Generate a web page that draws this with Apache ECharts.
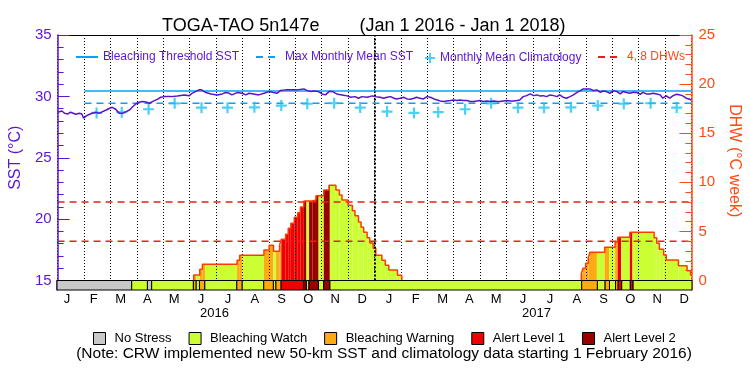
<!DOCTYPE html>
<html>
<head>
<meta charset="utf-8">
<script src="https://cdn.jsdelivr.net/npm/echarts@6/dist/echarts.min.js"></script>
<style>
  html, body { margin: 0; padding: 0; background: #fff; }
  #chart { width: 750px; height: 375px; }
</style>
</head>
<body>
<div id="chart"></div>
<script>
// days are counted from 1 Jan 2016 (day 731 = 1 Jan 2018)
var monthLabels = ['J','F','M','A','M','J','J','A','S','O','N','D','J','F','M','A','M','J','J','A','S','O','N','D'];
var yearLabels = ['2016', '2017'];

var sstDays = [
  0, 5, 8, 12, 15, 17, 21, 25, 28, 30,
  33, 37, 40, 44, 48, 52, 56, 60, 63, 67,
  71, 75, 79, 83, 86, 90, 94, 98, 102, 106,
  108, 111, 115, 119, 123, 131, 138, 146, 152, 155,
  159, 163, 166, 171, 177, 184, 190, 194, 198, 201,
  207, 213, 217, 221, 226, 232, 238, 244, 249, 253,
  257, 263, 269, 276, 284, 288, 292, 295, 301, 305,
  309, 313, 317, 322, 328, 334, 338, 343, 347, 351,
  357, 363, 366,
  372, 376, 380, 384, 388, 391, 395, 399, 403, 407,
  411, 414, 418, 422, 426, 430, 434, 438, 441, 445,
  449, 453, 457, 461, 464, 468, 472, 476, 480, 484,
  487, 491, 495, 499, 503, 507, 510, 514, 518, 522,
  526, 530, 533, 537, 541, 545, 549, 553, 556, 560,
  564, 568, 572, 576, 579, 583, 587, 591, 595, 599,
  603, 606, 610, 614, 618, 622, 626, 629, 633, 637,
  641, 645, 649, 652, 656, 660, 664, 668, 672, 675,
  679, 683, 687, 691, 695, 698, 702, 706, 710, 714,
  718, 721, 725, 729, 731
];
var sstValues = [
  28.71, 28.81, 28.62, 28.57, 28.71, 28.76, 28.54, 28.62, 28.57, 28.22,
  28.41, 28.54, 28.62, 28.71, 28.62, 28.76, 28.89, 29.03, 29.11, 28.95,
  28.62, 28.62, 28.76, 28.89, 29.11, 29.38, 29.52, 29.58, 29.55, 29.44,
  29.38, 29.63, 29.76, 29.93, 29.98, 29.98, 30.04, 30.12, 30.06, 30.25,
  30.39, 30.53, 30.53, 30.31, 30.20, 30.12, 30.20, 30.31, 30.25, 30.12,
  30.31, 30.25, 30.12, 30.25, 30.20, 30.12, 30.25, 30.39, 30.31, 30.25,
  30.47, 30.53, 30.53, 30.53, 30.61, 30.47, 30.39, 30.44, 30.39, 30.20,
  30.12, 30.39, 30.39, 30.20, 30.12, 30.04, 29.93, 29.98, 29.85, 29.98,
  29.93, 30.04, 29.98,
  29.93, 29.85, 29.93, 29.98, 29.85, 29.79, 29.85, 29.93, 29.79, 29.76,
  29.85, 29.93, 29.85, 29.79, 29.98, 29.93, 29.79, 29.71, 29.63, 29.58,
  29.63, 29.66, 29.71, 29.66, 29.71, 29.66, 29.66, 29.58, 29.58, 29.63,
  29.66, 29.58, 29.63, 29.58, 29.63, 29.58, 29.58, 29.63, 29.66, 29.63,
  29.63, 29.66, 29.71, 29.98, 30.06, 30.20, 30.06, 30.12, 30.04, 30.06,
  29.98, 30.12, 30.06, 29.98, 30.12, 29.93, 29.85, 29.98, 30.12, 30.33,
  30.47, 30.61, 30.61, 30.61, 30.47, 30.53, 30.33, 30.44, 30.39, 30.25,
  30.47, 30.39, 30.20, 30.39, 30.31, 30.25, 30.33, 30.31, 30.17, 30.33,
  30.20, 30.20, 30.25, 30.20, 30.12, 29.85, 30.04, 29.85, 30.06, 30.17,
  30.12, 30.04, 29.85, 29.76, 29.71
];

// monthly mean climatology, mid-month, from Feb 2016
var climDays = [45, 74, 105, 135, 166, 196, 227, 258, 288, 319, 349,
  380, 411, 439, 470, 500, 531, 561, 592, 623, 653, 684, 714];
var climValues = [28.65, 28.71, 28.95, 29.43, 29.08, 29.08, 29.11, 29.25, 29.4, 29.44, 29.09,
  28.76, 28.65, 28.71, 28.95, 29.43, 29.08, 29.08, 29.11, 29.25, 29.4, 29.44, 29.09];

var mmm = 29.44;
var threshold = 30.44;
var climStart = 31;      // new climatology starts 1 Feb 2016
var dhwLines = [4, 8];

// degree heating weeks, value holds from the given day on
var dhwDays = [0, 157, 164, 167, 207, 210, 238, 244, 249, 256,
  258, 263, 266, 269, 273, 277, 280, 284, 294, 298,
  307, 313, 321, 325, 328, 335, 340, 343, 347, 350,
  353, 357, 360, 364, 367, 374, 378, 382, 392, 397,
  604, 606, 609, 612, 614, 631, 643, 646, 660, 688,
  691, 694, 699, 702, 716, 726, 730];
var dhwValues = [0, 0.56, 1.14, 1.65, 2.06, 2.57, 3.11, 3.58, 2.97, 3.58,
  4.20, 4.70, 5.32, 5.82, 6.44, 6.90, 7.48, 8.10, 8.20, 8.64,
  9.22, 9.69, 9.22, 8.71, 8.20, 7.66, 7.11, 6.60, 5.96, 5.42,
  4.91, 4.36, 3.82, 3.28, 2.57, 2.06, 1.55, 1.07, 0.53, 0,
  0.66, 1.24, 1.75, 2.32, 2.87, 3.38, 3.92, 4.40, 4.91, 4.36,
  3.79, 3.18, 2.60, 2.09, 1.51, 1.00, 0.56];

// stress level periods: start day and level index
var stressStart = [0, 86, 104, 109, 157, 160, 164, 170, 207, 213,
  238, 249, 252, 258, 284, 287, 290, 301, 307, 314,
  604, 622, 631, 636, 643, 646, 650, 660, 663];
var stressLevel = [0, 1, 0, 1, 2, 1, 2, 1, 2, 1,
  2, 1, 2, 3, 4, 1, 4, 1, 4, 1,
  2, 1, 2, 1, 2, 3, 1, 3, 1];

var levelNames = ['No Stress', 'Bleaching Watch', 'Bleaching Warning', 'Alert Level 1', 'Alert Level 2'];
var levelColors = ['#c8c8c8', '#ccff33', '#ffaa14', '#f00000', '#990000'];

var noteText = '(Note: CRW implemented new 50-km SST and climatology data starting 1 February 2016)';
var END = 731;

var purple = '#5a16d2';
var orange = '#ff4a14';
var blue = '#0aa0f5';
var cyan = '#1cc4f5';
var font = 'Liberation Sans';

var sst = sstDays.map(function (d, i) { return [d, sstValues[i]]; });
var clim = climDays.map(function (d, i) { return [d, climValues[i]]; });

var segments = stressStart.map(function (s, i) {
  return [s, i + 1 < stressStart.length ? stressStart[i + 1] : END, stressLevel[i]];
});

// outline of the DHW steps, broken where DHW is 0
var outline = [];
for (var i = 0; i < dhwDays.length; i++) {
  var v = dhwValues[i];
  if (v === 0) {
    if (i > 0 && dhwValues[i - 1] > 0) outline.push([dhwDays[i], 0]);
    outline.push([dhwDays[i], '-']);
    continue;
  }
  if (i > 0 && dhwValues[i - 1] === 0) outline.push([dhwDays[i], 0]);
  outline.push([dhwDays[i], v]);
}
outline.push([END, dhwValues[dhwValues.length - 1]]);

function renderArea(params, api) {
  var s = api.value(0), e = api.value(1), lvl = api.value(2);
  var children = [];
  for (var k = 0; k < dhwDays.length; k++) {
    var ds = dhwDays[k];
    var de = k + 1 < dhwDays.length ? dhwDays[k + 1] : END;
    var a = Math.max(s, ds), b = Math.min(e, de);
    if (b <= a || dhwValues[k] <= 0) continue;
    var p0 = api.coord([a, dhwValues[k]]);
    var p1 = api.coord([b, 0]);
    children.push({
      type: 'rect',
      shape: { x: p0[0], y: p0[1], width: p1[0] - p0[0], height: p1[1] - p0[1] },
      style: { fill: levelColors[lvl] }
    });
  }
  return { type: 'group', children: children };
}

function renderBar(params, api) {
  var p0 = api.coord([api.value(0), 1]);
  var p1 = api.coord([api.value(1), 0]);
  return {
    type: 'rect',
    shape: { x: p0[0], y: p0[1], width: p1[0] - p0[0], height: p1[1] - p0[1] },
    style: { fill: api.visual('color'), stroke: '#000', lineWidth: 1 }
  };
}

var plusPath = 'path://M4,0H6V4H10V6H6V10H4V6H0V4H4Z';

var barSeries = levelNames.map(function (name, lvl) {
  return {
    name: name,
    type: 'custom',
    xAxisIndex: 2,
    yAxisIndex: 2,
    silent: true,
    z: 6,
    itemStyle: { color: levelColors[lvl], borderColor: '#000', borderWidth: 1 },
    renderItem: renderBar,
    data: segments.filter(function (s) { return s[2] === lvl; })
  };
});

function topLegend(name, left, w, color, h, isLine) {
  return {
    data: [name], left: left, top: 52 - (h || 12) / 2, itemWidth: w, itemHeight: h || 12,
    selectedMode: false,
    itemStyle: isLine ? { opacity: 0 } : {},
    textStyle: { color: color, fontSize: 12, fontFamily: font }
  };
}

var option = {
  animation: false,
  textStyle: { fontFamily: font },
  title: {
    text: 'TOGA-TAO 5n147e        (Jan 1 2016 - Jan 1 2018)',
    left: 157, top: 12,
    textStyle: { fontSize: 18, fontWeight: 'normal', color: '#000', fontFamily: font }
  },
  graphic: [{
    type: 'text', x: 384, y: 354,
    style: { text: noteText, font: '15.5px "Liberation Sans"', fill: '#000',
      textAlign: 'center', textVerticalAlign: 'middle', align: 'center', verticalAlign: 'middle' }
  }],
  legend: [
    topLegend('Bleaching Threshold SST', 70, 22, purple, 12, true),
    topLegend('Max Monthly Mean SST', 250, 24, purple, 12, true),
    topLegend('Monthly Mean Climatology', 420, 10, purple, 10, false),
    topLegend('4, 8 DHWs', 592, 24, orange, 12, true),
    {
      data: levelNames, left: 88, top: 327, itemWidth: 12, itemHeight: 12, itemGap: 17,
      icon: 'rect', selectedMode: false,
      itemStyle: { borderColor: '#000', borderWidth: 1 },
      textStyle: { color: '#000', fontSize: 13, fontFamily: font, padding: [0, 0, 0, 4] }
    }
  ],
  grid: [
    { left: 57, top: 35, width: 635, height: 245.5 },
    { left: 57, top: 280.5, width: 635, height: 9.5 },
    { left: 53.5, top: 280.5, width: 644, height: 9.5 }
  ],
  xAxis: [
    { gridIndex: 0, type: 'value', min: 0, max: END, show: false },
    {
      gridIndex: 0, type: 'category', data: monthLabels, position: 'top', boundaryGap: true, z: 3,
      axisLine: { onZero: false, lineStyle: { color: '#000', width: 1 } },
      axisTick: { show: false }, axisLabel: { show: false },
      splitLine: { show: true, interval: 0, lineStyle: { color: '#000', type: [1, 2], width: 1 } }
    },
    { gridIndex: 1, type: 'value', min: 0, max: END, show: false },
    {
      gridIndex: 2, type: 'category', data: monthLabels, position: 'bottom',
      axisLine: { show: false, onZero: false }, axisTick: { show: false },
      axisLabel: { interval: 0, margin: 3, fontSize: 13, color: '#000' }
    },
    {
      gridIndex: 2, type: 'category', data: yearLabels, position: 'bottom', offset: 14,
      axisLine: { show: false, onZero: false }, axisTick: { show: false },
      axisLabel: { interval: 0, margin: 3, fontSize: 13, color: '#000' }
    }
  ],
  yAxis: [
    {
      gridIndex: 0, type: 'value', min: 15, max: 35, interval: 5, position: 'left', z: 4,
      axisLine: { show: true, onZero: false, lineStyle: { color: purple, width: 1.5 } },
      axisTick: { show: true, inside: true, length: 12, lineStyle: { color: purple } },
      minorTick: { show: true, splitNumber: 5, length: 6, lineStyle: { color: purple } },
      axisLabel: { color: purple, fontSize: 15, margin: 6 },
      splitLine: { show: false },
      name: 'SST (°C)', nameLocation: 'middle', nameGap: 32,
      nameTextStyle: { color: purple, fontSize: 16 }
    },
    {
      gridIndex: 0, type: 'value', min: 0, max: 25, interval: 5, position: 'right', z: 4,
      axisLine: { show: true, onZero: false, lineStyle: { color: orange, width: 1.5 } },
      axisTick: { show: true, inside: true, length: 12, lineStyle: { color: orange } },
      minorTick: { show: true, splitNumber: 5, length: 6, lineStyle: { color: orange } },
      axisLabel: { color: orange, fontSize: 15, margin: 7 },
      splitLine: { show: false },
      name: 'DHW (°C week)', nameLocation: 'middle', nameRotate: -90, nameGap: 34,
      nameTextStyle: { color: orange, fontSize: 16, padding: [0, 0, 0, 6] }
    },
    {
      gridIndex: 1, type: 'value', min: 0, max: 1, position: 'left', z: 4,
      axisLine: { show: true, onZero: false, lineStyle: { color: purple, width: 1.5 } },
      axisTick: { show: false }, axisLabel: { show: false }, splitLine: { show: false }
    },
    {
      gridIndex: 1, type: 'value', min: 0, max: 1, position: 'right', z: 4,
      axisLine: { show: true, onZero: false, lineStyle: { color: orange, width: 1.5 } },
      axisTick: { show: false }, axisLabel: { show: false }, splitLine: { show: false }
    },
    { gridIndex: 2, type: 'value', min: 0, max: 1, show: false }
  ],
  series: [
    {
      name: 'DHW area', type: 'custom', xAxisIndex: 0, yAxisIndex: 1, z: 1, silent: true,
      renderItem: renderArea,
      data: segments.filter(function (s) { return s[2] > 0; })
    },
    {
      name: '4, 8 DHWs', type: 'line', xAxisIndex: 0, yAxisIndex: 1, symbol: 'none', z: 3,
      itemStyle: { color: '#ee1c1c' },
      lineStyle: { color: '#ee1c1c', width: 1.5, type: [7, 5] },
      data: [[0, dhwLines[0]], [END, dhwLines[0]]]
    },
    {
      name: '4, 8 DHWs', type: 'line', xAxisIndex: 0, yAxisIndex: 1, symbol: 'none', z: 3,
      itemStyle: { color: '#ee1c1c' },
      lineStyle: { color: '#ee1c1c', width: 1.5, type: [7, 5] },
      data: [[0, dhwLines[1]], [END, dhwLines[1]]]
    },
    {
      name: 'DHW', type: 'line', xAxisIndex: 0, yAxisIndex: 1, step: 'end', symbol: 'none', z: 4,
      lineStyle: { color: '#ff3c00', width: 1.5 },
      data: outline
    },
    {
      name: 'Max Monthly Mean SST', type: 'line', xAxisIndex: 0, yAxisIndex: 0, symbol: 'none', z: 5,
      itemStyle: { color: blue },
      lineStyle: { color: blue, width: 1.5, type: [7, 5] },
      data: [[climStart, mmm], [END, mmm]]
    },
    {
      name: 'Bleaching Threshold SST', type: 'line', xAxisIndex: 0, yAxisIndex: 0, symbol: 'none', z: 5,
      itemStyle: { color: blue },
      lineStyle: { color: blue, width: 1.5 },
      data: [[climStart, threshold], [END, threshold]]
    },
    {
      name: 'Monthly Mean Climatology', type: 'scatter', xAxisIndex: 0, yAxisIndex: 0, z: 6,
      symbol: plusPath, symbolSize: 11, itemStyle: { color: cyan },
      data: clim
    },
    {
      name: 'SST', type: 'line', xAxisIndex: 0, yAxisIndex: 0, symbol: 'none', z: 7,
      lineStyle: { color: '#5a14c8', width: 1.5 },
      data: sst,
      markLine: {
        silent: true, symbol: 'none', label: { show: false },
        lineStyle: { color: '#000', type: [2, 2], width: 2 },
        data: [{ xAxis: 366 }]
      }
    }
  ].concat(barSeries)
};

var chart = echarts.init(document.getElementById('chart'));
chart.setOption(option);
</script>
</body>
</html>
